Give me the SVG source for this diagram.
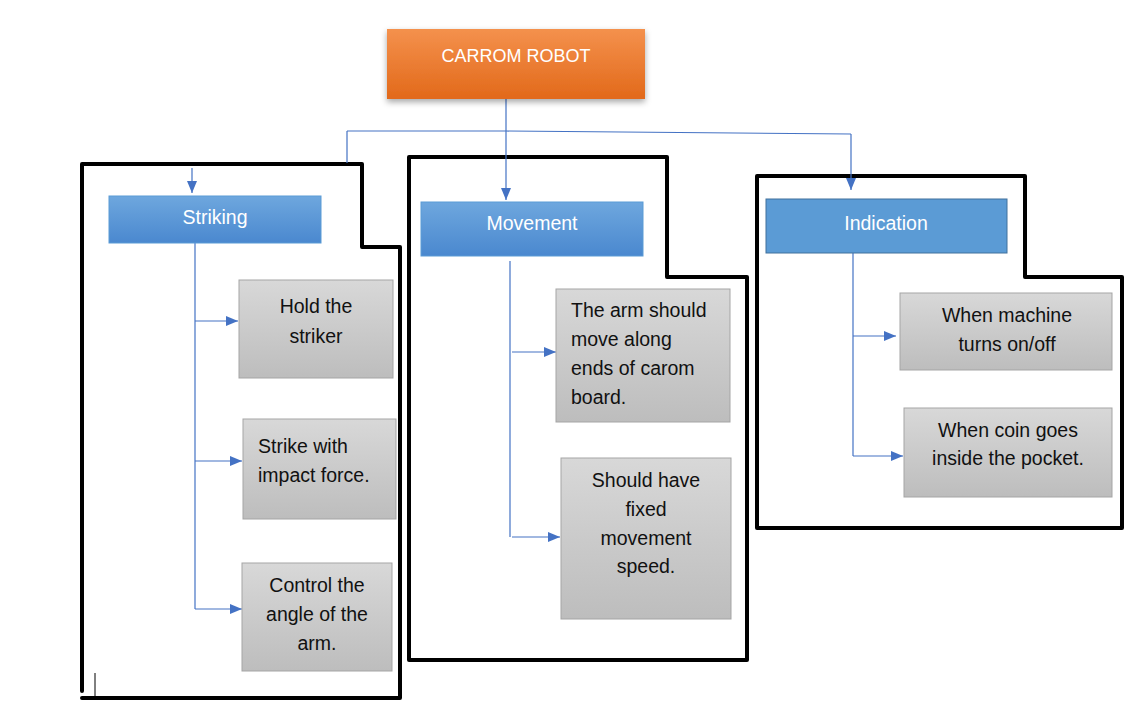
<svg xmlns="http://www.w3.org/2000/svg" width="1134" height="725" viewBox="0 0 1134 725">
<defs>
<linearGradient id="gOrange" x1="0" y1="0" x2="0" y2="1"><stop offset="0" stop-color="#f4914d"/><stop offset="1" stop-color="#e2691a"/></linearGradient>
<linearGradient id="gBlue" x1="0" y1="0" x2="0" y2="1"><stop offset="0" stop-color="#6ea7de"/><stop offset="1" stop-color="#4a88cf"/></linearGradient>
<linearGradient id="gGrey" x1="0" y1="0" x2="0" y2="1"><stop offset="0" stop-color="#d8d8d8"/><stop offset="1" stop-color="#bdbdbd"/></linearGradient>
<filter id="shadow" x="-10%" y="-20%" width="120%" height="150%"><feDropShadow dx="0" dy="3" stdDeviation="3" flood-color="#000" flood-opacity="0.35"/></filter>
<marker id="arr" viewBox="0 0 12 10" refX="12" refY="5" markerWidth="12" markerHeight="10" markerUnits="userSpaceOnUse" orient="auto"><path d="M0,0 L12,5 L0,10 z" fill="#4472c4"/></marker>
</defs>
<style>
text{font-family:"Liberation Sans",Arial,sans-serif;font-size:19.5px;fill:#111}
.w{fill:#fff}
.c{text-anchor:middle}
.grey{fill:url(#gGrey);stroke:#a5a5a5;stroke-width:1}
.blue{fill:url(#gBlue);stroke:#5b9bd5;stroke-width:1}
.outline{fill:none;stroke:#000;stroke-width:4;stroke-linejoin:round;stroke-linecap:round}
.conn{fill:none;stroke:#4472c4;stroke-width:1.2}
</style>
<rect width="1134" height="725" fill="#fff"/>
<g id="outlines">
<path class="outline" d="M82,691 L82,164 L362,164 L362,247 L400,247 L400,698 L82,698"/>
<line x1="95" y1="673" x2="95" y2="696" stroke="#000" stroke-width="1"/>
<path class="outline" d="M409,660 L409,157 L667,157 L667,277 L747,277 L747,660 L409,660"/>
<path class="outline" d="M757,528 L757,176 L1025,176 L1025,277 L1122,277 L1122,528 L757,528"/>
</g>
<g id="connectors">
<path class="conn" d="M506,99 L506,131 M347,131 L506,131 L851,134 M347,131 L347,163"/>
<path class="conn" d="M192,168 L192,193" marker-end="url(#arr)"/>
<path class="conn" d="M506,131 L506,200" marker-end="url(#arr)"/>
<path class="conn" d="M851,134 L851,190" marker-end="url(#arr)"/>
<path class="conn" d="M195,243 L195,609"/>
<path class="conn" d="M195,321 L238,321" marker-end="url(#arr)"/>
<path class="conn" d="M195,461 L242,461" marker-end="url(#arr)"/>
<path class="conn" d="M195,609 L242,609" marker-end="url(#arr)"/>
<path class="conn" d="M510,261 L510,537"/>
<path class="conn" d="M512,352 L556,352" marker-end="url(#arr)"/>
<path class="conn" d="M512,537 L560,537" marker-end="url(#arr)"/>
<path class="conn" d="M853,241 L853,456"/>
<path class="conn" d="M853,336 L896,336" marker-end="url(#arr)"/>
<path class="conn" d="M853,456 L903,456" marker-end="url(#arr)"/>
</g>
<g id="carrom-robot">
<rect x="387" y="29" width="258" height="70" fill="url(#gOrange)" filter="url(#shadow)"/>
<text class="w c" x="516" y="62" style="font-size:18px">CARROM ROBOT</text>
</g>
<g id="striking">
<rect class="blue" x="109" y="196" width="212" height="47"/>
<text class="w c" x="215" y="224">Striking</text>
</g>
<g id="movement">
<rect class="blue" x="421" y="202" width="222" height="54"/>
<text class="w c" x="532" y="230">Movement</text>
</g>
<g id="indication">
<rect x="766" y="199" width="241" height="54" fill="#5b9bd5" stroke="#41719c" stroke-width="1"/>
<text class="w c" x="886" y="230">Indication</text>
</g>
<g id="hold">
<rect class="grey" x="239" y="280" width="154" height="98"/>
<text class="c" x="316" y="313">Hold the</text>
<text class="c" x="316" y="343">striker</text>
</g>
<g id="strike">
<rect class="grey" x="243" y="419" width="153" height="100"/>
<text x="258" y="453">Strike with</text>
<text x="258" y="482">impact force.</text>
</g>
<g id="control">
<rect class="grey" x="242" y="563" width="150" height="108"/>
<text class="c" x="317" y="592">Control the</text>
<text class="c" x="317" y="621">angle of the</text>
<text class="c" x="317" y="650">arm.</text>
</g>
<g id="arm-move">
<rect class="grey" x="556" y="289" width="174" height="133"/>
<text x="571" y="317">The arm should</text>
<text x="571" y="346">move along</text>
<text x="571" y="375">ends of carom</text>
<text x="571" y="404">board.</text>
</g>
<g id="fixed-speed">
<rect class="grey" x="561" y="458" width="170" height="161"/>
<text class="c" x="646" y="487">Should have</text>
<text class="c" x="646" y="516">fixed</text>
<text class="c" x="646" y="545">movement</text>
<text class="c" x="646" y="573">speed.</text>
</g>
<g id="machine-on-off">
<rect class="grey" x="900" y="293" width="212" height="77"/>
<text class="c" x="1007" y="322">When machine</text>
<text class="c" x="1007" y="351">turns on/off</text>
</g>
<g id="coin-pocket">
<rect class="grey" x="904" y="408" width="208" height="89"/>
<text class="c" x="1008" y="437">When coin goes</text>
<text class="c" x="1008" y="465">inside the pocket.</text>
</g>
</svg>
